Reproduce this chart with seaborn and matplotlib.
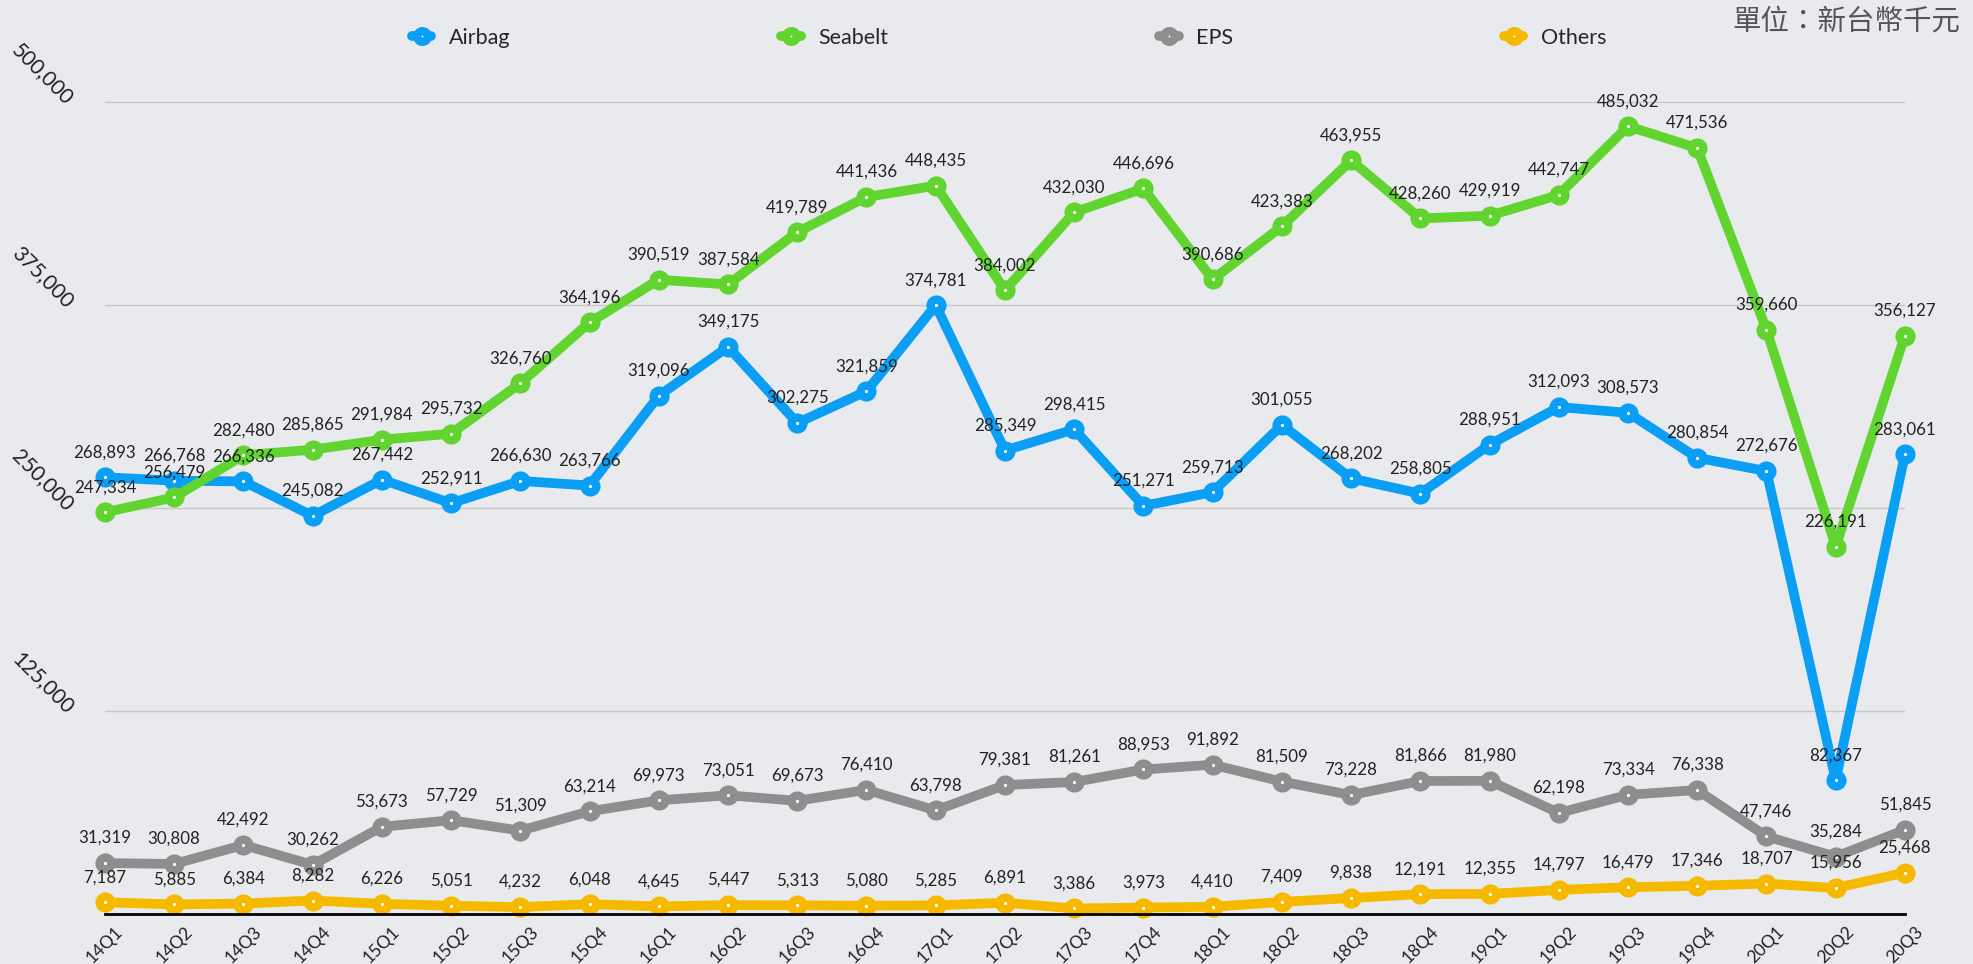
import numpy as np
import pandas as pd
import seaborn as sns
import matplotlib.pyplot as plt

quarters = ['14Q1', '14Q2', '14Q3', '14Q4', '15Q1', '15Q2', '15Q3', '15Q4',
            '16Q1', '16Q2', '16Q3', '16Q4', '17Q1', '17Q2', '17Q3', '17Q4',
            '18Q1', '18Q2', '18Q3', '18Q4', '19Q1', '19Q2', '19Q3', '19Q4',
            '20Q1', '20Q2', '20Q3']

airbag = [268893, 266768, 266336, 245082, 267442, 252911, 266630, 263766,
          319096, 349175, 302275, 321859, 374781, 285349, 298415, 251271,
          259713, 301055, 268202, 258805, 288951, 312093, 308573, 280854,
          272676, 82367, 283061]
seabelt = [247334, 256479, 282480, 285865, 291984, 295732, 326760, 364196,
           390519, 387584, 419789, 441436, 448435, 384002, 432030, 446696,
           390686, 423383, 463955, 428260, 429919, 442747, 485032, 471536,
           359660, 226191, 356127]
eps = [31319, 30808, 42492, 30262, 53673, 57729, 51309, 63214,
       69973, 73051, 69673, 76410, 63798, 79381, 81261, 88953,
       91892, 81509, 73228, 81866, 81980, 62198, 73334, 76338,
       47746, 35284, 51845]
others = [7187, 5885, 6384, 8282, 6226, 5051, 4232, 6048,
          4645, 5447, 5313, 5080, 5285, 6891, 3386, 3973,
          4410, 7409, 9838, 12191, 12355, 14797, 16479, 17346,
          18707, 15956, 25468]

names = ['Airbag', 'Seabelt', 'EPS', 'Others']
colors = ['#0a9ff5', '#62d42f', '#8e8e8e', '#f7b800']
yticks = [125000, 250000, 375000, 500000]

sns.set_theme(style='white')
plt.rcParams['font.family'] = ['Lato', 'DejaVu Sans']

fig = plt.figure(figsize=(19.73, 9.64), dpi=100, facecolor='#e8eaed')
ax = fig.add_axes([0.0532, 0.0519, 0.9123, 0.9098])
ax.set_facecolor('none')

for name, vals, col in zip(names, [airbag, seabelt, eps, others], colors):
    sns.lineplot(x=quarters, y=vals, ax=ax, color=col, linewidth=7, sort=False,
                 marker='o', markersize=8.5, markerfacecolor='white',
                 markeredgecolor=col, markeredgewidth=6, label=name, clip_on=False)
    for i, v in enumerate(vals):
        ax.annotate(f'{v:,}', (i, v), xytext=(0, 18), textcoords='offset points',
                    ha='center', va='center', fontsize=12.2, color='#222222')

ax.set_xlim(0, len(quarters) - 1)
ax.set_ylim(0, 540000)
ax.set_yticks(yticks)
ax.set_yticklabels([f'{t:,}' for t in yticks])
ax.yaxis.grid(True, color='#c8c8c8', linewidth=1)
ax.xaxis.grid(False)
for s in ['top', 'right', 'left']:
    ax.spines[s].set_visible(False)
ax.spines['bottom'].set_color('black')
ax.spines['bottom'].set_linewidth(2)

ax.tick_params(axis='y', length=0, pad=25, labelsize=15, labelcolor='#222222')
ax.tick_params(axis='x', length=0, pad=7, labelsize=12.5, labelcolor='#222222')
plt.setp(ax.get_yticklabels(), rotation=-45, ha='right', va='center', rotation_mode='anchor')
plt.setp(ax.get_xticklabels(), rotation=45, ha='center', va='top')
ax.set_xlabel('')
ax.set_ylabel('')

handles, labels = ax.get_legend_handles_labels()
ax.get_legend().remove()
fig.legend(handles, labels, loc='center left', bbox_to_anchor=(0.2088, 0.961),
           ncol=4, frameon=False, fontsize=15.5, handlelength=0.9,
           columnspacing=12.6, borderaxespad=0, borderpad=0, handletextpad=0.8,
           markerscale=0.9)

fig.text(0.9934, 0.978, '單位：新台幣千元', ha='right', va='center', fontsize=20.5,
         color='#555555', family=['Noto Sans CJK TC', 'DejaVu Sans'])

fig.savefig('out.png', dpi=100, facecolor=fig.get_facecolor())
